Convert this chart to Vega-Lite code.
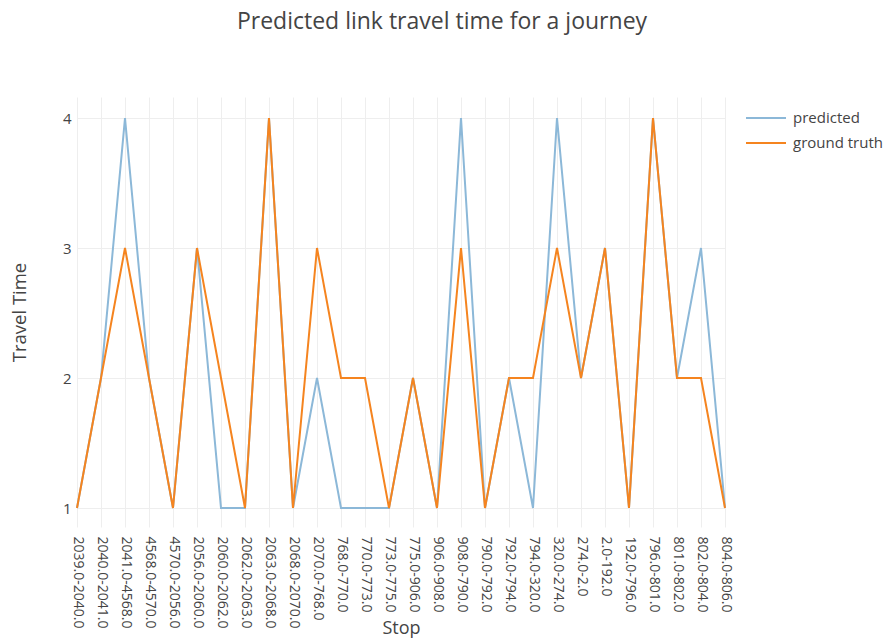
{
  "$schema": "https://vega.github.io/schema/vega-lite/v6.json",
  "width": 648,
  "height": 430,
  "autosize": {"type": "none"},
  "padding": {"left": 77, "top": 97, "right": 166, "bottom": 112},
  "background": "white",
  "config": {
    "font": "Open Sans",
    "view": {"stroke": null}
  },
  "title": {
    "text": "Predicted link travel time for a journey",
    "fontSize": 23,
    "fontWeight": "normal",
    "color": "#444",
    "anchor": "middle",
    "dx": 41,
    "offset": 63
  },
  "data": {
    "values": [
      {"stop": "2039.0-2040.0", "series": "predicted", "value": 1},
      {"stop": "2040.0-2041.0", "series": "predicted", "value": 2},
      {"stop": "2041.0-4568.0", "series": "predicted", "value": 4},
      {"stop": "4568.0-4570.0", "series": "predicted", "value": 2},
      {"stop": "4570.0-2056.0", "series": "predicted", "value": 1},
      {"stop": "2056.0-2060.0", "series": "predicted", "value": 3},
      {"stop": "2060.0-2062.0", "series": "predicted", "value": 1},
      {"stop": "2062.0-2063.0", "series": "predicted", "value": 1},
      {"stop": "2063.0-2068.0", "series": "predicted", "value": 4},
      {"stop": "2068.0-2070.0", "series": "predicted", "value": 1},
      {"stop": "2070.0-768.0", "series": "predicted", "value": 2},
      {"stop": "768.0-770.0", "series": "predicted", "value": 1},
      {"stop": "770.0-773.0", "series": "predicted", "value": 1},
      {"stop": "773.0-775.0", "series": "predicted", "value": 1},
      {"stop": "775.0-906.0", "series": "predicted", "value": 2},
      {"stop": "906.0-908.0", "series": "predicted", "value": 1},
      {"stop": "908.0-790.0", "series": "predicted", "value": 4},
      {"stop": "790.0-792.0", "series": "predicted", "value": 1},
      {"stop": "792.0-794.0", "series": "predicted", "value": 2},
      {"stop": "794.0-320.0", "series": "predicted", "value": 1},
      {"stop": "320.0-274.0", "series": "predicted", "value": 4},
      {"stop": "274.0-2.0", "series": "predicted", "value": 2},
      {"stop": "2.0-192.0", "series": "predicted", "value": 3},
      {"stop": "192.0-796.0", "series": "predicted", "value": 1},
      {"stop": "796.0-801.0", "series": "predicted", "value": 4},
      {"stop": "801.0-802.0", "series": "predicted", "value": 2},
      {"stop": "802.0-804.0", "series": "predicted", "value": 3},
      {"stop": "804.0-806.0", "series": "predicted", "value": 1},
      {"stop": "2039.0-2040.0", "series": "ground truth", "value": 1},
      {"stop": "2040.0-2041.0", "series": "ground truth", "value": 2},
      {"stop": "2041.0-4568.0", "series": "ground truth", "value": 3},
      {"stop": "4568.0-4570.0", "series": "ground truth", "value": 2},
      {"stop": "4570.0-2056.0", "series": "ground truth", "value": 1},
      {"stop": "2056.0-2060.0", "series": "ground truth", "value": 3},
      {"stop": "2060.0-2062.0", "series": "ground truth", "value": 2},
      {"stop": "2062.0-2063.0", "series": "ground truth", "value": 1},
      {"stop": "2063.0-2068.0", "series": "ground truth", "value": 4},
      {"stop": "2068.0-2070.0", "series": "ground truth", "value": 1},
      {"stop": "2070.0-768.0", "series": "ground truth", "value": 3},
      {"stop": "768.0-770.0", "series": "ground truth", "value": 2},
      {"stop": "770.0-773.0", "series": "ground truth", "value": 2},
      {"stop": "773.0-775.0", "series": "ground truth", "value": 1},
      {"stop": "775.0-906.0", "series": "ground truth", "value": 2},
      {"stop": "906.0-908.0", "series": "ground truth", "value": 1},
      {"stop": "908.0-790.0", "series": "ground truth", "value": 3},
      {"stop": "790.0-792.0", "series": "ground truth", "value": 1},
      {"stop": "792.0-794.0", "series": "ground truth", "value": 2},
      {"stop": "794.0-320.0", "series": "ground truth", "value": 2},
      {"stop": "320.0-274.0", "series": "ground truth", "value": 3},
      {"stop": "274.0-2.0", "series": "ground truth", "value": 2},
      {"stop": "2.0-192.0", "series": "ground truth", "value": 3},
      {"stop": "192.0-796.0", "series": "ground truth", "value": 1},
      {"stop": "796.0-801.0", "series": "ground truth", "value": 4},
      {"stop": "801.0-802.0", "series": "ground truth", "value": 2},
      {"stop": "802.0-804.0", "series": "ground truth", "value": 2},
      {"stop": "804.0-806.0", "series": "ground truth", "value": 1}
    ]
  },
  "encoding": {
    "x": {
      "field": "stop",
      "type": "nominal",
      "sort": null,
      "scale": {"type": "point", "padding": 0},
      "axis": {
        "title": "Stop",
        "titleFont": "Open Sans",
        "titleFontSize": 18,
        "titleFontWeight": "normal",
        "titleColor": "#444",
        "titleX": 324,
        "titleY": 101,
        "titleBaseline": "middle",
        "labelAngle": 90,
        "labelAlign": "left",
        "labelBaseline": "middle",
        "labelFontSize": 14,
        "labelColor": "#444",
        "labelPadding": 9,
        "labelOverlap": false,
        "labelBound": false,
        "labelLimit": 0,
        "ticks": false,
        "domain": false,
        "grid": true,
        "gridColor": "#eeeeee",
        "gridWidth": 1
      }
    },
    "y": {
      "field": "value",
      "type": "quantitative",
      "scale": {"domain": [0.854, 4.162], "nice": false, "zero": false},
      "axis": {
        "title": "Travel Time",
        "titleFont": "Open Sans",
        "titleFontSize": 18.5,
        "titleFontWeight": "normal",
        "titleColor": "#444",
        "titleX": -58,
        "titleY": 215,
        "titleAngle": -90,
        "titleAlign": "center",
        "titleBaseline": "middle",
        "values": [1, 1.5, 2, 2.5, 3, 3.5, 4],
        "format": "d",
        "labelExpr": "datum.value % 1 == 0 ? datum.label : ''",
        "labelFontSize": 15,
        "labelColor": "#444",
        "labelPadding": 6,
        "ticks": false,
        "domain": false,
        "grid": true,
        "gridColor": "#eeeeee",
        "gridWidth": 1
      }
    },
    "color": {
      "field": "series",
      "type": "nominal",
      "scale": {"domain": ["predicted", "ground truth"], "range": ["#8cb8d8", "#f5841f"]},
      "legend": {
        "title": null,
        "orient": "none",
        "legendX": 678,
        "legendY": 10,
        "symbolType": "M-2,0H2",
        "symbolSize": 400,
        "symbolStrokeWidth": 2,
        "labelFontSize": 15,
        "labelColor": "#444",
        "labelFont": "Open Sans",
        "rowPadding": 6,
        "labelOffset": 16
      }
    }
  },
  "layer": [
    {
      "transform": [{"filter": "datum.series == 'predicted'"}],
      "mark": {"type": "line", "strokeWidth": 2}
    },
    {
      "transform": [{"filter": "datum.series == 'ground truth'"}],
      "mark": {"type": "line", "strokeWidth": 2}
    }
  ]
}
